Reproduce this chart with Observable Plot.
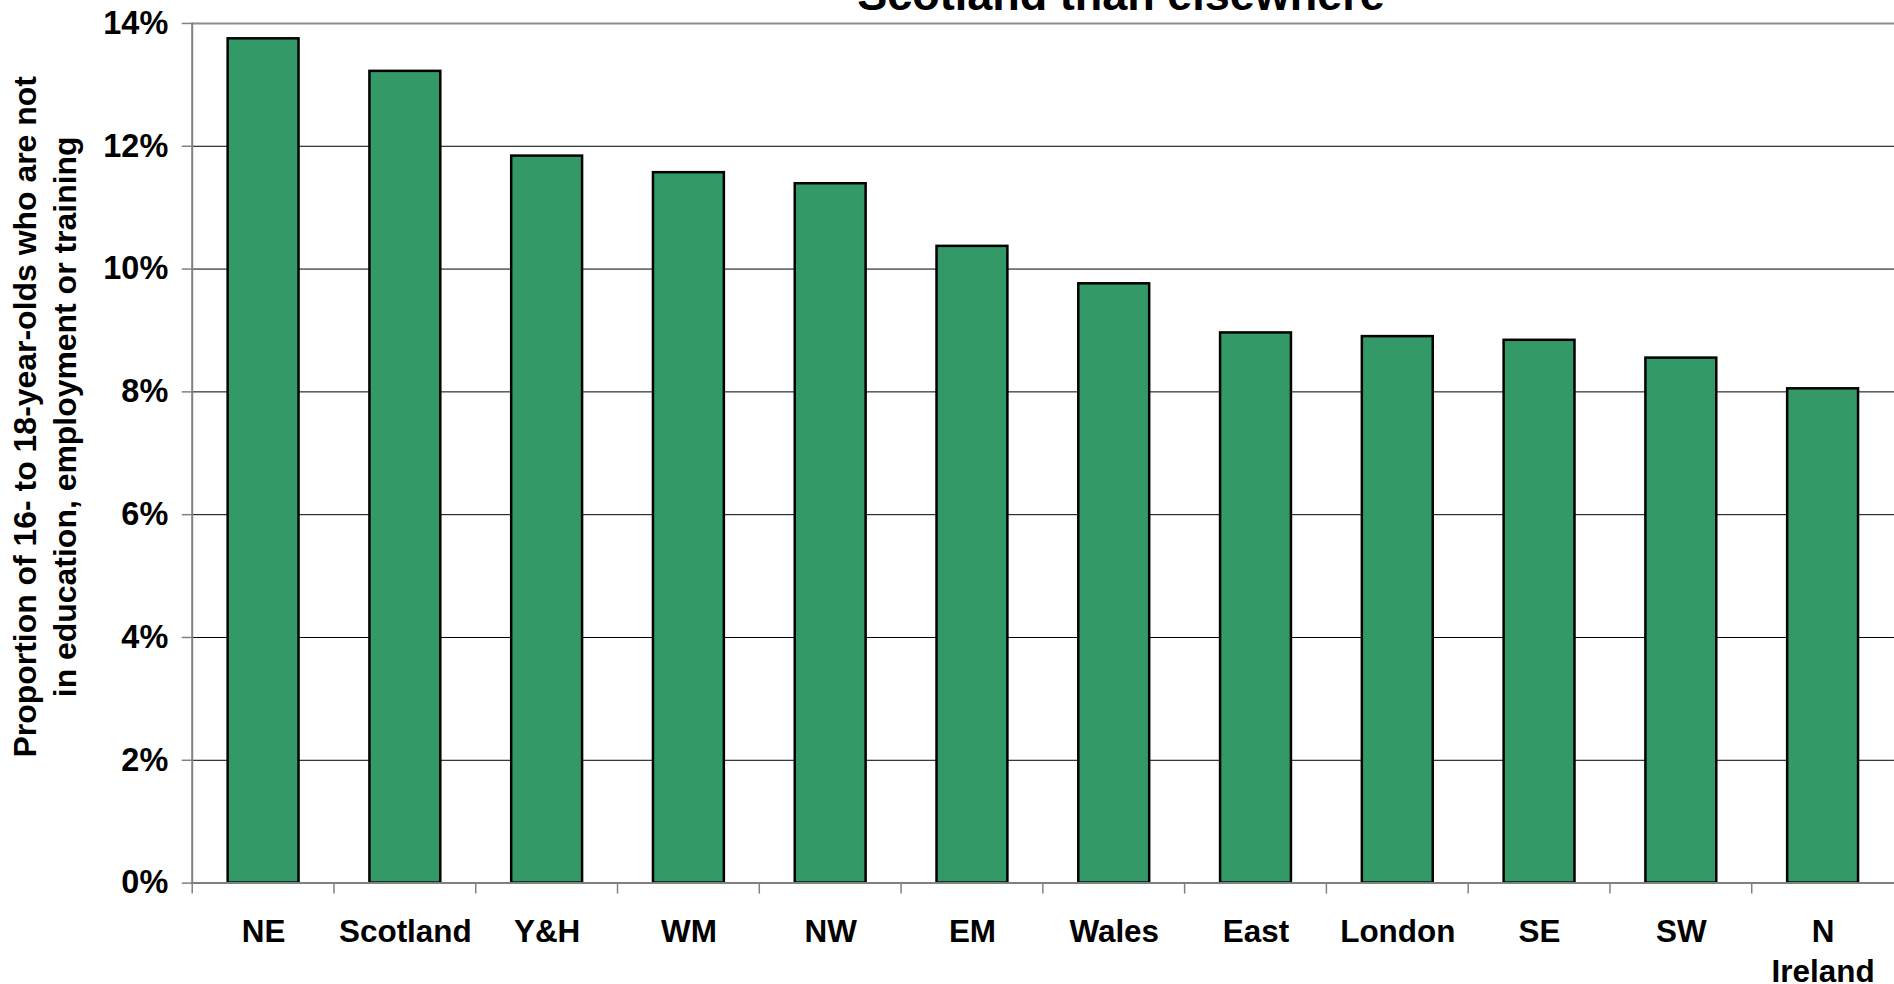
<!DOCTYPE html>
<html>
<head>
<meta charset="utf-8">
<script src="https://cdn.jsdelivr.net/npm/d3@7"></script>
<script src="https://cdn.jsdelivr.net/npm/@observablehq/plot@0.6"></script>
<style>
  html, body { margin: 0; padding: 0; background: #fff; overflow: hidden; }
  #wrap { position: relative; width: 1894px; height: 984px; overflow: hidden; }
  #title {
    position: absolute; left: 1121px; top: -28px; transform: translateX(-50%);
    white-space: nowrap; font-family: "Liberation Sans", Arial, sans-serif;
    font-weight: bold; font-size: 45px; line-height: 45px; color: #000; z-index: 2;
  }
  #chart { position: absolute; left: 0; top: 0; }
</style>
</head>
<body>
<div id="wrap">
  <div id="title">Scotland than elsewhere</div>
  <div id="chart"></div>
</div>
<script>
const regions = ["NE", "Scotland", "Y&H", "WM", "NW", "EM", "Wales", "East", "London", "SE", "SW", "N Ireland"];
const neetShare = [13.75, 13.22, 11.84, 11.57, 11.39, 10.37, 9.76, 8.96, 8.90, 8.84, 8.55, 8.05];
const yTicks = [0, 2, 4, 6, 8, 10, 12, 14];
const regionLabels = ["NE", "Scotland", "Y&H", "WM", "NW", "EM", "Wales", "East", "London", "SE", "SW", "N\nIreland"];
const axisTitle = ["Proportion of 16- to 18-year-olds who are not", "in education, employment or training"];

const data = regions.map((r, i) => ({region: r, value: neetShare[i]}));
const labelOf = new Map(regions.map((r, i) => [r, regionLabels[i]]));
const font = "'Liberation Sans', Arial, sans-serif";

const plot = Plot.plot({
  width: 1897,
  height: 984,
  marginLeft: 192,
  marginRight: 0,
  marginTop: 23,
  marginBottom: 100,
  style: {fontFamily: font, fontSize: "32px", fontWeight: "bold", color: "#000", background: "#fff", overflow: "visible"},
  x: {domain: regions, paddingInner: 0.5, paddingOuter: 0.25, label: null},
  y: {domain: [0, 14], label: null},
  marks: [
    Plot.ruleY(yTicks.filter(v => v > 0 && v < 14), {stroke: "#000", strokeWidth: 1}),
    Plot.ruleY([14], {stroke: "#8c8c8c", strokeWidth: 2}),
    Plot.barY(data, {x: "region", y: "value", fill: "#339966", stroke: "#000", strokeWidth: 2.5}),
    Plot.ruleY([0], {stroke: "#808080", strokeWidth: 2}),
    Plot.frame({anchor: "left", stroke: "#808080", strokeWidth: 2}),
    Plot.axisY({ticks: yTicks, tickFormat: d => d + "%", tickSize: 10, tickPadding: 14, stroke: "#808080", strokeWidth: 1.5, fill: "#000", fontSize: 32.5, fontWeight: "bold"}),
    Plot.axisX({tickSize: 0, tickPadding: 31, tickFormat: d => labelOf.get(d), fill: "#000", fontSize: 31.5, fontWeight: "bold", lineHeight: 40 / 31.5}),
    Plot.text([axisTitle.join("\n")], {
      frameAnchor: "left", rotate: -90, dx: -149.5, dy: -36.5,
      lineHeight: 40 / 32, fontSize: 32, fontWeight: "bold", fill: "#000",
      textAnchor: "middle", lineAnchor: "middle"
    })
  ]
});

document.getElementById("chart").appendChild(plot);

// category separator ticks below the x axis, from the library's band scale
const xs = plot.scale("x");
const ys = plot.scale("y");
const y0 = ys.apply(0);
const svg = d3.select(plot);
svg.append("g")
  .attr("stroke", "#808080")
  .attr("stroke-width", 1.5)
  .selectAll("line")
  .data(regions)
  .join("line")
  .attr("x1", d => xs.apply(d) - (xs.step - xs.bandwidth) / 2)
  .attr("x2", d => xs.apply(d) - (xs.step - xs.bandwidth) / 2)
  .attr("y1", y0)
  .attr("y2", y0 + 11);
</script>
</body>
</html>
